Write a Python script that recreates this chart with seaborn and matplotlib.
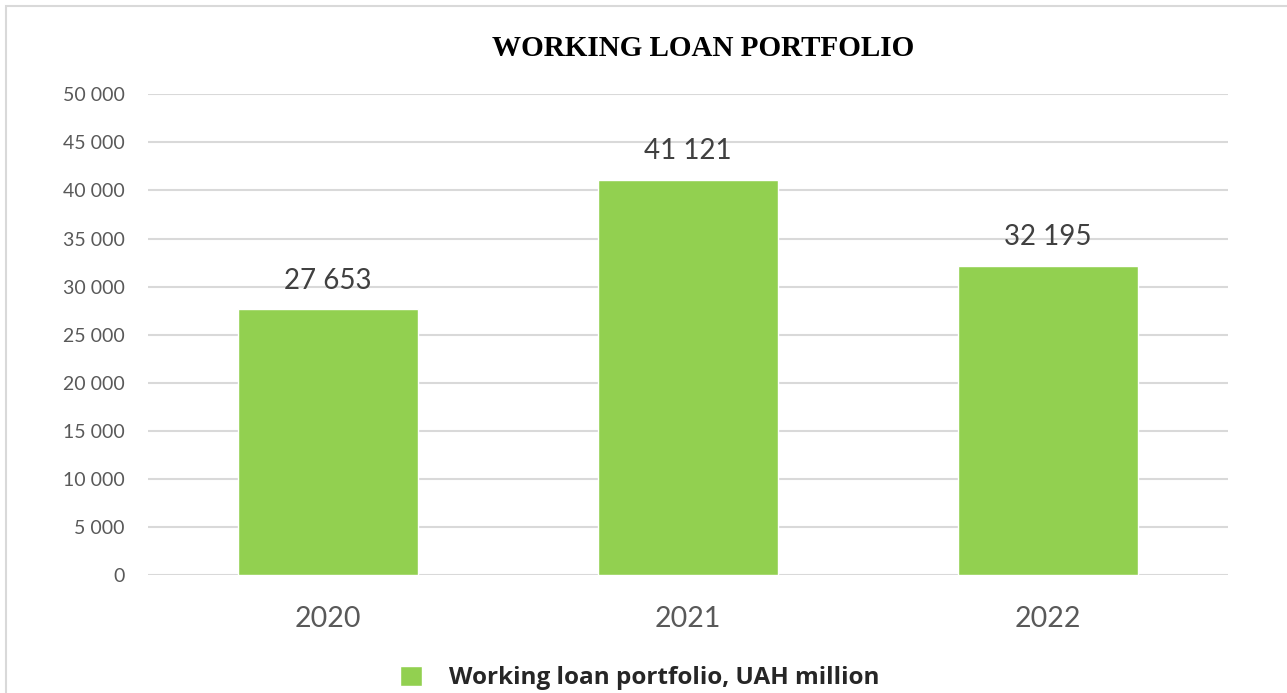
import numpy as np
import pandas as pd
import seaborn as sns
import matplotlib.pyplot as plt
from matplotlib.patches import Rectangle

years = ["2020", "2021", "2022"]
loans = [27653, 41121, 32195]
series_name = "Working loan portfolio, UAH million"
y_ticks = list(range(0, 50001, 5000))


def fmt(v):
    return f"{v:,}".replace(",", " ")


df = pd.DataFrame({"year": years, "value": loans})

sns.set_style("white")
plt.rcParams["font.family"] = ["Lato", "DejaVu Sans"]

fig = plt.figure(figsize=(12.87, 6.93), dpi=100)
ax = fig.add_axes([0.115, 0.170, 0.839, 0.694])

green = "#92d050"
sns.barplot(data=df, x="year", y="value", color=green, width=0.5,
            saturation=1, ax=ax, label=series_name, zorder=3)

ax.set_xlim(-0.5, 2.5)
ax.set_ylim(0, 50000)
ax.set_yticks(y_ticks)
ax.set_yticklabels([fmt(v) for v in y_ticks], fontsize=14, color="#595959")
ax.tick_params(axis="x", labelsize=20.5, labelcolor="#595959", length=0, pad=22)
ax.tick_params(axis="y", length=0, pad=17)
ax.yaxis.grid(True, color="#d9d9d9", linewidth=1.5, zorder=0)
ax.set_xlabel("")
ax.set_ylabel("")
for s in ax.spines.values():
    s.set_visible(False)

for i, v in enumerate(loans):
    ax.annotate(fmt(v), (i, v), xytext=(0, 11), textcoords="offset points",
                ha="center", va="bottom", fontsize=20, color="#404040")

fig.text(0.546, 0.930, "WORKING LOAN PORTFOLIO", ha="center", va="center",
         fontsize=21, fontweight="bold", family="Liberation Serif", color="black")

handles, labels = ax.get_legend_handles_labels()
if ax.legend_:
    ax.legend_.remove()
fig.legend(handles, labels, loc="center", bbox_to_anchor=(0.497, 0.022),
           frameon=False, handlelength=0.9, handleheight=0.9, handletextpad=1.1,
           prop={"size": 17.5, "weight": "bold", "family": ["Open Sans", "DejaVu Sans"]})

# outer chart border (top and left edges visible)
fig.patches.append(Rectangle((6 / 1287, -0.1), 1.2, 1.1 - 6 / 693,
                             transform=fig.transFigure, fill=False,
                             edgecolor="#d9d9d9", linewidth=1.5))

fig.savefig("out.png", dpi=100)
